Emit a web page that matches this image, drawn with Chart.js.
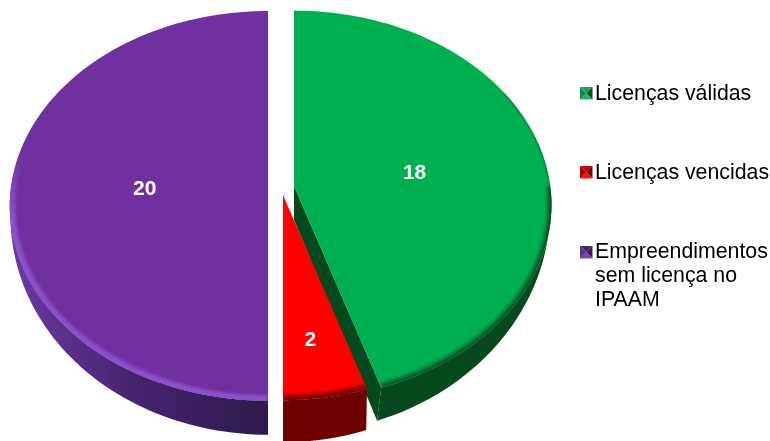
<!DOCTYPE html>
<html lang="pt">
<head>
<meta charset="utf-8">
<title>Licenças</title>
<script src="https://cdn.jsdelivr.net/npm/chart.js@4"></script>
<style>
    html, body { margin: 0; padding: 0; background: #ffffff; }
    #licencas-chart { display: block; }
</style>
</head>
<body>
<canvas id="licencas-chart" width="770" height="441"></canvas>
<script>
/* Pizza em perspectiva: licenças dos empreendimentos */

const categorias = ['Licenças válidas', 'Licenças vencidas', 'Empreendimentos sem licença no IPAAM'];
const valores = [18, 2, 20];
const cores = ['#00B050', '#FF0000', '#7030A0'];
const linhasLegenda = [['Licenças válidas'], ['Licenças vencidas'], ['Empreendimentos', 'sem licença no', 'IPAAM']];

// geometria de cada fatia (centro projetado, profundidade, posição do rótulo e da legenda)
const fatias = [
    { x: 294, y: 186, scale: 0.997, depth: 34, wallScale: 0.95, labelR: 0.48, labelDx: 0, wall: '#07491f', rim: '#07491f', legendY: 87, textY: 100,
      swatch: ['#18a65a', '#0a4f28', '#22b465', '#0f8a45'] },
    { x: 283, y: 195, scale: 0.96, depth: 42, wallScale: 0.99, labelR: 0.73, labelDx: -3, wall: '#6e0000', rim: '#6e0000', legendY: 166, textY: 179,
      swatch: ['#d00000', '#780000', '#f81010', '#b00000'] },
    { x: 268, y: 187, scale: 1, depth: 34, wallScale: 0.98, labelR: 0.48, labelDx: 0, wall: '#3f2163', rim: '#8c50cc', legendY: 246, textY: 258,
      swatch: ['#45266e', '#3a1f5c', '#7a44a8', '#5a3188'] }
];
const RAIO_X = 257;
const RAIO_Y = 193;
const PERSPECTIVA = 0.097;

// ponto do disco (angulo do Chart.js, raio 0..1) depois da projeção
function projetar(f, angulo, r = 1) {
    const u = Math.cos(angulo) * r;
    const v = Math.sin(angulo) * r;
    const d = 1 - PERSPECTIVA * v;
    return { x: f.x + f.scale * RAIO_X * u / d, y: f.y + f.scale * RAIO_Y * v / d };
}

// ponto correspondente na borda de baixo; a altura cresce a partir da parte mais larga
function projetarBase(f, angulo) {
    const p = projetar(f, angulo);
    const v = Math.max(0, Math.sin(angulo));
    return {
        x: f.x + (p.x - f.x) * (1 - (1 - f.wallScale) * v),
        y: p.y + f.depth * Math.sqrt(v)
    };
}

function tracarBorda(ctx, f, ini, fim, continuar = false) {
    const passos = 120;
    for (let i = 0; i <= passos; i++) {
        const p = projetar(f, ini + (fim - ini) * i / passos);
        if (i === 0 && !continuar) ctx.moveTo(p.x, p.y);
        else ctx.lineTo(p.x, p.y);
    }
}

function tracarBase(ctx, f, ini, fim) {
    const passos = 120;
    for (let i = 0; i <= passos; i++) {
        const p = projetarBase(f, ini + (fim - ini) * i / passos);
        ctx.lineTo(p.x, p.y);
    }
}

function tracarFace(ctx, f, ini, fim) {
    ctx.beginPath();
    ctx.moveTo(f.x, f.y);
    tracarBorda(ctx, f, ini, fim, true);
    ctx.closePath();
}

function desenharLateral(ctx, f, ini, fim, cor) {
    ctx.beginPath();
    tracarBorda(ctx, f, ini, fim);
    tracarBase(ctx, f, fim, ini);
    ctx.closePath();
    ctx.fillStyle = cor;
    ctx.fill();
}

// parede do corte que fica visível na fatia verde
function desenharCorte(ctx, f, fim) {
    const p = projetar(f, fim);
    const b = projetarBase(f, fim);
    ctx.beginPath();
    ctx.moveTo(f.x, f.y);
    ctx.lineTo(p.x, p.y);
    ctx.lineTo(b.x, b.y);
    ctx.lineTo(f.x, f.y + f.depth);
    ctx.closePath();
    ctx.fillStyle = f.wall;
    ctx.fill();
}

function desenharRealce(ctx, f, faceIni, faceFim, ini, fim, largura, desfoque, estilo) {
    ctx.save();
    tracarFace(ctx, f, faceIni, faceFim);
    ctx.clip();
    ctx.filter = `blur(${desfoque}px)`;
    ctx.beginPath();
    tracarBorda(ctx, f, ini, fim);
    ctx.strokeStyle = estilo || f.rim;
    ctx.lineWidth = largura;
    ctx.stroke();
    ctx.restore();
}

function desenharQuadradoLegenda(ctx, x, y, c) {
    const t = 12.5;
    const cx = x + t / 2, cy = y + t / 2;
    const triangulos = [
        [x, y, x + t, y, c[0]],
        [x + t, y, x + t, y + t, c[1]],
        [x + t, y + t, x, y + t, c[2]],
        [x, y + t, x, y, c[3]]
    ];
    triangulos.forEach(([x1, y1, x2, y2, cor]) => {
        ctx.beginPath();
        ctx.moveTo(x1, y1);
        ctx.lineTo(x2, y2);
        ctx.lineTo(cx, cy);
        ctx.closePath();
        ctx.fillStyle = cor;
        ctx.fill();
    });
}

const pizza3d = {
    id: 'pizza3d',
    beforeDatasetDraw(chart) {
        const ctx = chart.ctx;
        const arcos = chart.getDatasetMeta(0).data;

        // a ordem de pintura deixa a fatia vermelha por cima da parede verde
        [2, 0, 1].forEach(i => {
            const arco = arcos[i];
            const f = fatias[i];
            const ini = arco.startAngle;
            const fim = arco.endAngle;

            ctx.save();
            if (i === 2) {
                const grad = ctx.createLinearGradient(20, 0, 268, 0);
                grad.addColorStop(0, '#6a37a0');
                grad.addColorStop(0.45, '#452470');
                grad.addColorStop(1, '#2f1a4c');
                desenharLateral(ctx, f, ini, fim, grad);
            } else {
                desenharLateral(ctx, f, ini, fim, f.wall);
            }
            if (i === 0) desenharCorte(ctx, f, fim);

            tracarFace(ctx, f, ini, fim);
            ctx.fillStyle = arco.options.backgroundColor;
            ctx.fill();

            // chanfro suave entre a face e a lateral
            if (i === 2) {
                const brilho = ctx.createLinearGradient(0, 150, 0, 215);
                brilho.addColorStop(0, 'rgba(140, 80, 204, 0)');
                brilho.addColorStop(1, 'rgba(140, 80, 204, 1)');
                desenharRealce(ctx, f, ini, fim, Math.PI * 0.5, Math.PI * 1.07, 11, 1.8, brilho);
            } else if (i === 0) {
                desenharRealce(ctx, f, ini, fim, ini + Math.PI * 0.33, ini + Math.PI * 0.5, 2, 1, 'rgba(7, 73, 31, 0.6)');
                desenharRealce(ctx, f, ini, fim, ini + Math.PI * 0.5, fim, 7, 2);
            } else {
                desenharRealce(ctx, f, ini, fim, ini, fim, 9, 2);
            }
            ctx.restore();
        });
        return false;
    },
    afterDatasetsDraw(chart) {
        const ctx = chart.ctx;
        const arcos = chart.getDatasetMeta(0).data;
        ctx.save();

        // valores sobre as fatias
        ctx.font = 'bold 21px "Liberation Sans", Arial, sans-serif';
        ctx.fillStyle = '#ffffff';
        ctx.textAlign = 'center';
        ctx.textBaseline = 'middle';
        valores.forEach((valor, i) => {
            const f = fatias[i];
            const meio = (arcos[i].startAngle + arcos[i].endAngle) / 2;
            const p = projetar(f, meio, f.labelR);
            ctx.fillText(String(valor), p.x + f.labelDx, p.y + 2);
        });

        // legenda à direita, com quebra de linha manual
        ctx.font = '21.3px "Liberation Sans", Arial, sans-serif';
        ctx.textAlign = 'left';
        ctx.textBaseline = 'alphabetic';
        linhasLegenda.forEach((linhas, i) => {
            desenharQuadradoLegenda(ctx, 580, fatias[i].legendY, fatias[i].swatch);
            ctx.fillStyle = '#000000';
            linhas.forEach((linha, j) => {
                ctx.fillText(linha, 595, fatias[i].textY + j * 24);
            });
        });
        ctx.restore();
    }
};

new Chart(document.getElementById('licencas-chart').getContext('2d'), {
    type: 'pie',
    data: {
        labels: categorias,
        datasets: [{
            data: valores,
            backgroundColor: cores,
            borderWidth: 0
        }]
    },
    options: {
        responsive: false,
        animation: false,
        plugins: {
            legend: { display: false },
            tooltip: { enabled: false }
        }
    },
    plugins: [pizza3d]
});
</script>
</body>
</html>
